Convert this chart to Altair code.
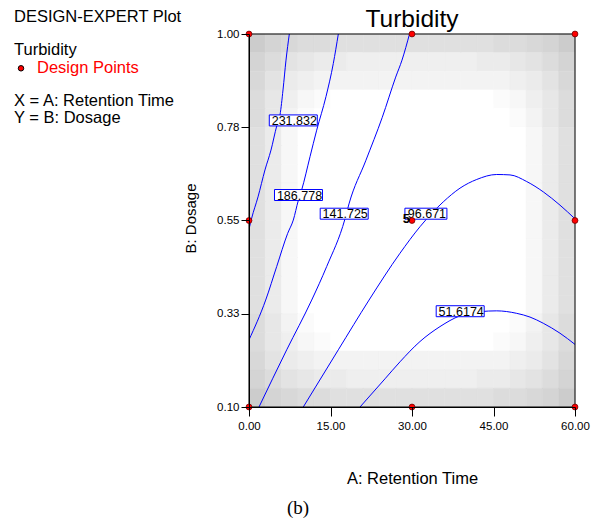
import altair as alt
import pandas as pd

FONT = "Liberation Sans"

# ---------------- data ----------------
X_TICKS = [0, 15, 30, 45, 60]
Y_TICKS = [0.1, 0.325, 0.55, 0.775, 1.0]

DESIGN_X = [0, 0, 0, 30, 30, 30, 60, 60, 60]
DESIGN_Y = [0.1, 0.55, 1.0, 0.1, 0.55, 1.0, 0.1, 0.55, 1.0]
CENTER_COUNT = "5"

LEVELS = ["231.832", "186.778", "141.725", "96.671", "51.6174"]

C1_X = [7.42, 6.81, 6.26, 5.71, 5.10, 4.05, 2.94, 1.66, 0.50, 0.0]
C1_Y = [1.0, 0.937, 0.865, 0.805, 0.778, 0.720, 0.672, 0.607, 0.556, 0.529]

C2_X = [16.44, 15.52, 14.17, 12.46, 11.23, 9.70, 9.07, 8.15, 7.12, 5.10, 3.07, 0.0]
C2_Y = [1.0, 0.929, 0.849, 0.768, 0.704, 0.624, 0.598, 0.551, 0.519, 0.439, 0.358, 0.262]

C3_X = [29.54, 28.16, 27.00, 24.53, 21.48, 18.40, 17.67, 14.30, 11.54, 6.94, 1.84]
C3_Y = [1.0, 0.937, 0.896, 0.799, 0.694, 0.590, 0.554, 0.439, 0.358, 0.238, 0.1]

C4_X = [9.99, 16.44, 22.09, 27.79, 31.47, 35.76, 38.83, 41.91, 45.59, 48.04, 51.11, 54.17, 57.24, 60.0]
C4_Y = [0.1, 0.238, 0.358, 0.471, 0.535, 0.595, 0.628, 0.649, 0.661, 0.660, 0.644, 0.619, 0.587, 0.554]

C5_X = [20.43, 25.03, 27.79, 31.47, 35.15, 38.83, 42.52, 45.59, 49.27, 51.72, 54.17, 57.24, 60.0]
C5_Y = [0.1, 0.168, 0.209, 0.258, 0.294, 0.320, 0.330, 0.332, 0.326, 0.317, 0.302, 0.278, 0.251]

LABEL_X = [8.15, 9.11, 17.52, 32.56, 38.87]
LABEL_Y = [0.7915, 0.6115, 0.5664, 0.5664, 0.3311]

# standard-error shading, 20 x 20 cells, top row first (0 = darkest, F = white)
SHADE_ROWS = [
    "24566777777777766542",
    "4689AABBBBBBBBAA9864",
    "58ABCCCCCCCCCCCCBA85",
    "69BDEFFFFFFFFFFEDB96",
    "69CEFFFFFFFFFFFFEC96",
    "7ADFFFFFFFFFFFFFFDA7",
    "7ADFFFFFFFFFFFFFFDA7",
    "7ADFFFFFFFFFFFFFFDA7",
    "7ADFFFFFFFFFFFFFFDA7",
    "7ADFFFFFFFFFFFFFFDA7",
    "7ADFFFFFFFFFFFFFFDA7",
    "7ADFFFFFFFFFFFFFFDA7",
    "7ADFFFFFFFFFFFFFFDA7",
    "7ADFFFFFFFFFFFFFFDA7",
    "7ADFFFFFFFFFFFFFFDA7",
    "69CEFFFFFFFFFFFFEC96",
    "69BDEFFFFFFFFFFEDB96",
    "58ABCCCCCCCCCCCCBA85",
    "4689AABBBBBBBBAA9864",
    "24566777777777766542",
]

# ---------------- tables ----------------
X_MIN, X_MAX = 0.0, 60.0
Y_MIN, Y_MAX = 0.1, 1.0
n_rows = len(SHADE_ROWS)
n_cols = len(SHADE_ROWS[0])
cells = []
for r, row in enumerate(SHADE_ROWS):
    for c, ch in enumerate(row):
        g = round(196 + int(ch, 16) * 59 / 15)
        cells.append({
            "x0": X_MIN + (X_MAX - X_MIN) * c / n_cols,
            "x1": X_MIN + (X_MAX - X_MIN) * (c + 1) / n_cols,
            "y1": Y_MAX - (Y_MAX - Y_MIN) * r / n_rows,
            "y0": Y_MAX - (Y_MAX - Y_MIN) * (r + 1) / n_rows,
            "color": "#%02x%02x%02x" % (g, g, g),
        })
cells = pd.DataFrame(cells)

lines = []
for lev, xs, ys in zip(LEVELS, [C1_X, C2_X, C3_X, C4_X, C5_X], [C1_Y, C2_Y, C3_Y, C4_Y, C5_Y]):
    for xv, yv in zip(xs, ys):
        lines.append({"level": lev, "x": xv, "y": yv})
lines = pd.DataFrame(lines)

labels = pd.DataFrame({"label": LEVELS, "x": LABEL_X, "y": LABEL_Y})
design = pd.DataFrame({"x": DESIGN_X, "y": DESIGN_Y})
center = pd.DataFrame({"x": [DESIGN_X[4]], "y": [DESIGN_Y[4]], "n": [CENTER_COUNT]})

# ---------------- scales / axes ----------------
xs = alt.Scale(domain=[X_MIN, X_MAX], nice=False, zero=False)
ys = alt.Scale(domain=[Y_MIN, Y_MAX], nice=False, zero=False)

x_axis = alt.Axis(
    values=X_TICKS, format=".2f", grid=False, tickSize=9, tickColor="black",
    domainColor="black", labelFont=FONT, labelFontSize=11.5, labelColor="black",
    labelPadding=4, labelFlush=False, labelOverlap=False, zindex=1,
    title="A: Retention Time", titleFont=FONT, titleFontSize=16.5,
    titleFontWeight="normal", titleColor="black", titleX=163, titleY=71,
    titleBaseline="middle", titleAlign="center",
)
y_axis = alt.Axis(
    values=Y_TICKS, format=".2f", grid=False, tickSize=8, tickColor="black",
    domainColor="black", labelFont=FONT, labelFontSize=11.5, labelColor="black",
    labelPadding=2, labelOverlap=False, zindex=1,
    title="B: Dosage", titleFont=FONT, titleFontSize=15,
    titleFontWeight="normal", titleColor="black", titleX=-59, titleY=184,
    titleBaseline="middle", titleAlign="center", titleAngle=-90,
)

bg = alt.Chart(cells).mark_rect(strokeWidth=0.6).encode(
    x=alt.X("x0:Q", scale=xs, axis=x_axis),
    x2="x1:Q",
    y=alt.Y("y0:Q", scale=ys, axis=y_axis),
    y2="y1:Q",
    fill=alt.Fill("color:N", scale=None),
    stroke=alt.Stroke("color:N", scale=None),
)

frame = alt.Chart(pd.DataFrame({"k": [0]})).mark_rect(
    fill=None, stroke="black", strokeWidth=1
).encode(
    x=alt.datum(X_MIN, scale=xs), x2=alt.datum(X_MAX),
    y=alt.datum(Y_MIN, scale=ys), y2=alt.datum(Y_MAX),
)

contours = alt.Chart(lines).mark_line(
    color="#0000ff", strokeWidth=1, interpolate="monotone", clip=True
).encode(
    x=alt.X("x:Q", scale=xs),
    y=alt.Y("y:Q", scale=ys),
    detail="level:N",
    order=alt.Order("x:Q"),
)

box_wide = alt.Chart(labels).transform_filter(
    alt.FieldOneOfPredicate(field="label", oneOf=["231.832", "186.778", "141.725", "51.6174"])
).mark_point(
    shape="M-1,-0.229H1V0.229H-1Z", size=2304, filled=True, fill="white",
    stroke="#0000ff", strokeWidth=1, opacity=1,
).encode(x=alt.X("x:Q", scale=xs), y=alt.Y("y:Q", scale=ys))

box_narrow = alt.Chart(labels).transform_filter(
    alt.FieldEqualPredicate(field="label", equal="96.671")
).mark_point(
    shape="M-1,-0.262H1V0.262H-1Z", size=1764, filled=True, fill="white",
    stroke="#0000ff", strokeWidth=1, opacity=1,
).encode(x=alt.X("x:Q", scale=xs), y=alt.Y("y:Q", scale=ys))

label_text = alt.Chart(labels).mark_text(
    font=FONT, fontSize=12.5, color="black", baseline="middle", align="center", dx=1, dy=0.5
).encode(x=alt.X("x:Q", scale=xs), y=alt.Y("y:Q", scale=ys), text="label:N")

points = alt.Chart(design).mark_point(
    filled=True, fill="#ff0000", stroke="#700000", strokeWidth=0.8, size=34, opacity=1
).encode(x=alt.X("x:Q", scale=xs), y=alt.Y("y:Q", scale=ys))

center_txt = alt.Chart(center).mark_text(
    font=FONT, fontSize=13, fontWeight="bold", color="black", align="right",
    baseline="middle", dx=-2, dy=-2,
).encode(x=alt.X("x:Q", scale=xs), y=alt.Y("y:Q", scale=ys), text="n:N")

ONE = pd.DataFrame({"k": [0]})


def note(text, px, py, size=16.5, color="black", align="left", font=FONT):
    return alt.Chart(ONE).mark_text(
        text=text, font=font, fontSize=size, color=color, align=align,
        baseline="alphabetic",
    ).encode(x=alt.value(px), y=alt.value(py))


legend_dot = alt.Chart(ONE).mark_point(
    filled=True, fill="#ff0000", stroke="black", strokeWidth=1, size=30, opacity=1
).encode(x=alt.value(-228), y=alt.value(34.3))

notes = [
    note("Turbidity", 163, -7, size=24.5, align="center"),
    note("DESIGN-EXPERT Plot", -235, -12.3),
    note("Turbidity", -235, 21),
    note("Design Points", -212, 38.7, color="#ff0000"),
    note("X = A: Retention Time", -235, 72),
    note("Y = B: Dosage", -235, 88.7),
    note("(b)", 38, 480, size=19, font="Liberation Serif"),
]

chart = alt.layer(
    bg, contours, box_wide, box_narrow, label_text, frame, points, center_txt,
    legend_dot, *notes,
).properties(
    width=326, height=373,
    autosize=alt.AutoSizeParams(type="none"),
    padding={"left": 249, "top": 34, "right": 20, "bottom": 117},
).configure_view(stroke=None)

chart.save("out.html", embed_options={"renderer": "svg", "actions": False})
